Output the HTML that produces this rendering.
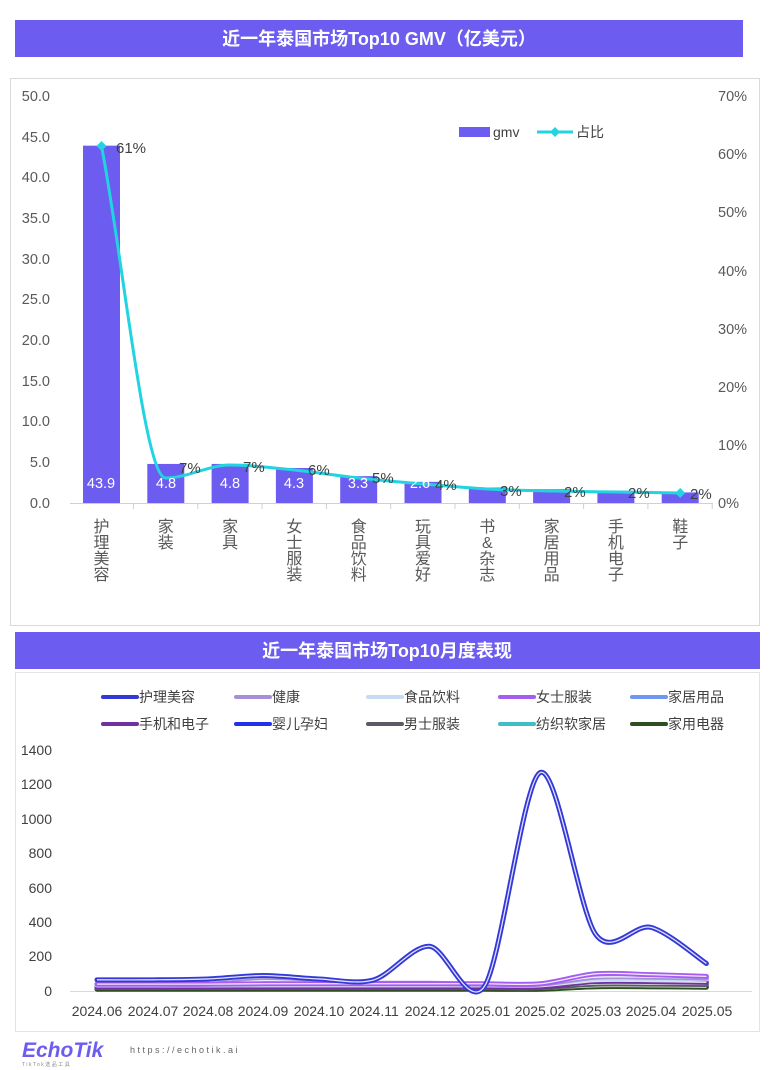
<!DOCTYPE html>
<html><head><meta charset="utf-8">
<style>
body{margin:0;background:#fff;width:772px;height:1070px;overflow:hidden;font-family:"Liberation Sans","Noto Sans CJK SC",sans-serif}
svg{position:absolute;left:0;top:0}
</style></head><body>
<svg width="772" height="1070" viewBox="0 0 772 1070" font-family="Liberation Sans, Noto Sans CJK SC, sans-serif">
<rect x="15" y="20" width="728" height="37" fill="#6c5cf0"/>
<text x="379" y="45" text-anchor="middle" fill="#fff" font-size="18" font-weight="bold">近一年泰国市场Top10 GMV（亿美元）</text>
<rect x="10.5" y="78.5" width="749" height="547" fill="#fff" stroke="#d9d9d9"/>
<g font-size="14.5" fill="#595959" text-anchor="end">
<text x="50" y="101">50.0</text><text x="50" y="142">45.0</text><text x="50" y="182">40.0</text><text x="50" y="223">35.0</text><text x="50" y="264">30.0</text><text x="50" y="304">25.0</text><text x="50" y="345">20.0</text><text x="50" y="386">15.0</text><text x="50" y="426">10.0</text><text x="50" y="467">5.0</text><text x="50" y="508">0.0</text>
</g>
<g font-size="14.5" fill="#595959">
<text x="718" y="101">70%</text><text x="718" y="159">60%</text><text x="718" y="217">50%</text><text x="718" y="276">40%</text><text x="718" y="334">30%</text><text x="718" y="392">20%</text><text x="718" y="450">10%</text><text x="718" y="508">0%</text>
</g>
<line x1="70" y1="503.5" x2="713" y2="503.5" stroke="#d0d0d0"/>
<g id="bars" fill="#6c5cf0"></g>
<path id="pl" fill="none" stroke="#22d3e0" stroke-width="3"/>
<g id="dm" fill="#22d3e0"></g>
<g font-size="14.5" fill="#fff" text-anchor="middle">
<text x="101" y="488">43.9</text><text x="166" y="488">4.8</text><text x="230" y="488">4.8</text><text x="294" y="488">4.3</text><text x="358" y="488">3.3</text><text x="420" y="488">2.6</text>
</g>
<g font-size="15" fill="#404040">
<text x="116" y="153">61%</text><text x="179" y="473">7%</text><text x="243" y="472">7%</text><text x="308" y="475">6%</text><text x="372" y="483">5%</text><text x="435" y="490">4%</text><text x="500" y="496">3%</text><text x="564" y="497">2%</text><text x="628" y="498">2%</text><text x="690" y="499">2%</text>
</g>
<rect x="459" y="127" width="31" height="10" fill="#6c5cf0"/>
<text x="493" y="137" font-size="14" fill="#404040">gmv</text>
<line x1="537" y1="132" x2="573" y2="132" stroke="#22d3e0" stroke-width="3"/>
<path d="M555 127l5 5-5 5-5-5z" fill="#22d3e0"/>
<text x="576" y="137" font-size="14" fill="#404040">占比</text>
<g font-size="16" fill="#595959" text-anchor="middle" id="cats"></g>
<rect x="15" y="632" width="745" height="37" fill="#6c5cf0"/>
<text x="387" y="657" text-anchor="middle" fill="#fff" font-size="18" font-weight="bold">近一年泰国市场Top10月度表现</text>
<rect x="15.5" y="672.5" width="744" height="359" fill="#fff" stroke="#e3e3e3"/>
<g font-size="14" fill="#404040">
<g stroke-width="4" stroke-linecap="round">
<line x1="103" y1="697" x2="137" y2="697" stroke="#3338d6"/><line x1="236" y1="697" x2="270" y2="697" stroke="#a78fd6"/><line x1="368" y1="697" x2="402" y2="697" stroke="#c5dcf2"/><line x1="500" y1="697" x2="534" y2="697" stroke="#a55cf0"/><line x1="632" y1="697" x2="666" y2="697" stroke="#6f96f0"/>
<line x1="103" y1="724" x2="137" y2="724" stroke="#7030a0"/><line x1="236" y1="724" x2="270" y2="724" stroke="#2430e8"/><line x1="368" y1="724" x2="402" y2="724" stroke="#5a5a66"/><line x1="500" y1="724" x2="534" y2="724" stroke="#3fbfc4"/><line x1="632" y1="724" x2="666" y2="724" stroke="#2e5020"/>
</g>
<text x="139" y="702">护理美容</text><text x="272" y="702">健康</text><text x="404" y="702">食品饮料</text><text x="536" y="702">女士服装</text><text x="668" y="702">家居用品</text>
<text x="139" y="729">手机和电子</text><text x="272" y="729">婴儿孕妇</text><text x="404" y="729">男士服装</text><text x="536" y="729">纺织软家居</text><text x="668" y="729">家用电器</text>
</g>
<g font-size="14" fill="#404040" text-anchor="end">
<text x="52" y="755">1400</text><text x="52" y="789">1200</text><text x="52" y="824">1000</text><text x="52" y="858">800</text><text x="52" y="893">600</text><text x="52" y="927">400</text><text x="52" y="961">200</text><text x="52" y="996">0</text>
</g>
<line x1="70" y1="991.5" x2="752" y2="991.5" stroke="#d9d9d9"/>
<g id="ml"></g>
<g font-size="14" fill="#404040" text-anchor="middle">
<text x="97" y="1016">2024.06</text><text x="153" y="1016">2024.07</text><text x="208" y="1016">2024.08</text><text x="263" y="1016">2024.09</text><text x="319" y="1016">2024.10</text><text x="374" y="1016">2024.11</text><text x="430" y="1016">2024.12</text><text x="485" y="1016">2025.01</text><text x="540" y="1016">2025.02</text><text x="596" y="1016">2025.03</text><text x="651" y="1016">2025.04</text><text x="707" y="1016">2025.05</text>
</g>
<text x="22" y="1057" font-size="21" font-weight="bold" font-style="italic" fill="#6c5cf0">EchoTik</text>
<text x="130" y="1053" font-size="9" fill="#666" letter-spacing="2.5">https://echotik.ai</text>
<text x="22" y="1066" font-size="5" fill="#888" letter-spacing="1.5">TikTok选品工具</text>
</svg>
<script>
var NS="http://www.w3.org/2000/svg";
function el(t,a,p){var e=document.createElementNS(NS,t);for(var k in a)e.setAttribute(k,a[k]);p.appendChild(e);return e;}
function smooth(P,t){t=t||0.17;var d="M"+P[0][0]+" "+P[0][1];for(var i=0;i<P.length-1;i++){var p0=P[i-1]||P[i],p1=P[i],p2=P[i+1],p3=P[i+2]||p2;d+=" C"+(p1[0]+(p2[0]-p0[0])*t)+" "+(p1[1]+(p2[1]-p0[1])*t)+" "+(p2[0]-(p3[0]-p1[0])*t)+" "+(p2[1]-(p3[1]-p1[1])*t)+" "+p2[0]+" "+p2[1];}return d;}
function mono(P){var n=P.length,m=[],dl=[];for(var i=0;i<n-1;i++)dl.push((P[i+1][1]-P[i][1])/(P[i+1][0]-P[i][0]));
m[0]=dl[0];m[n-1]=dl[n-2];for(var i=1;i<n-1;i++){m[i]=(dl[i-1]*dl[i]<=0)?0:(dl[i-1]+dl[i])/2;}
var d="M"+P[0][0]+" "+P[0][1];for(var i=0;i<n-1;i++){var h=(P[i+1][0]-P[i][0])/3;d+=" C"+(P[i][0]+h)+" "+(P[i][1]+m[i]*h)+" "+(P[i+1][0]-h)+" "+(P[i+1][1]-m[i+1]*h)+" "+P[i+1][0]+" "+P[i+1][1];}return d;}
var vals=[43.9,4.8,4.8,4.3,3.3,2.6,1.9,1.7,1.5,1.3];
var cx=[];for(var i=0;i<10;i++)cx.push(101.5+64.3*i);
var bars=document.getElementById("bars");
vals.forEach(function(v,i){var h=v*8.14;el("rect",{x:cx[i]-18.5,y:503-h,width:37,height:h},bars);});
var py=[146,478,465,470,478,484,489,491,492,493];
var P=cx.map(function(x,i){return[x,py[i]]});
document.getElementById("pl").setAttribute("d",mono(P));
var dm=document.getElementById("dm");
[0,9].forEach(function(i){el("path",{d:"M"+cx[i]+" "+(py[i]-5)+"l5 5-5 5-5-5z"},dm);});
var names=["护理美容","家装","家具","女士服装","食品饮料","玩具爱好","书&杂志","家居用品","手机电子","鞋子"];
var cats=document.getElementById("cats");
names.forEach(function(n,i){var ch=Array.from(n);ch.forEach(function(c,j){var t=el("text",{x:cx[i],y:532+j*16},cats);t.textContent=c;});
el("line",{x1:cx[i]+32,y1:503,x2:cx[i]+32,y2:509,stroke:"#d0d0d0"},cats);});
var ml=document.getElementById("ml");
function X(i){return 97+55.4*i}function Y(v){return 991-v*0.172}
var S=[
["#3fbfc4",[15,15,15,15,15,15,15,15,15,25,25,25]],
["#2e5020",[10,10,10,10,10,10,10,10,10,25,25,22]],
["#5a5a66",[20,20,20,20,20,20,20,20,20,40,40,38]],
["#6f96f0",[30,30,30,30,30,30,30,30,30,60,65,65]],
["#7030a0",[25,25,25,25,25,25,25,25,25,55,55,50]],
["#c5dcf2",[35,35,35,40,40,40,40,40,40,70,70,70]],
["#a78fd6",[40,40,40,60,50,45,45,40,40,80,80,75]],
["#a55cf0",[40,40,40,42,42,42,42,42,42,100,95,85]],
["#3338d6",[65,65,70,90,70,65,260,30,1270,330,370,160]]];
S.forEach(function(s){var P=s[1].map(function(v,i){return[X(i),Y(v)]});var d=smooth(P,0.15);
el("path",{d:d,fill:"none",stroke:s[0],"stroke-width":5,"stroke-linecap":"round"},ml);
el("path",{d:d,fill:"none",stroke:"#fff","stroke-width":1.3,opacity:0.85},ml);});
</script>
</body></html>
